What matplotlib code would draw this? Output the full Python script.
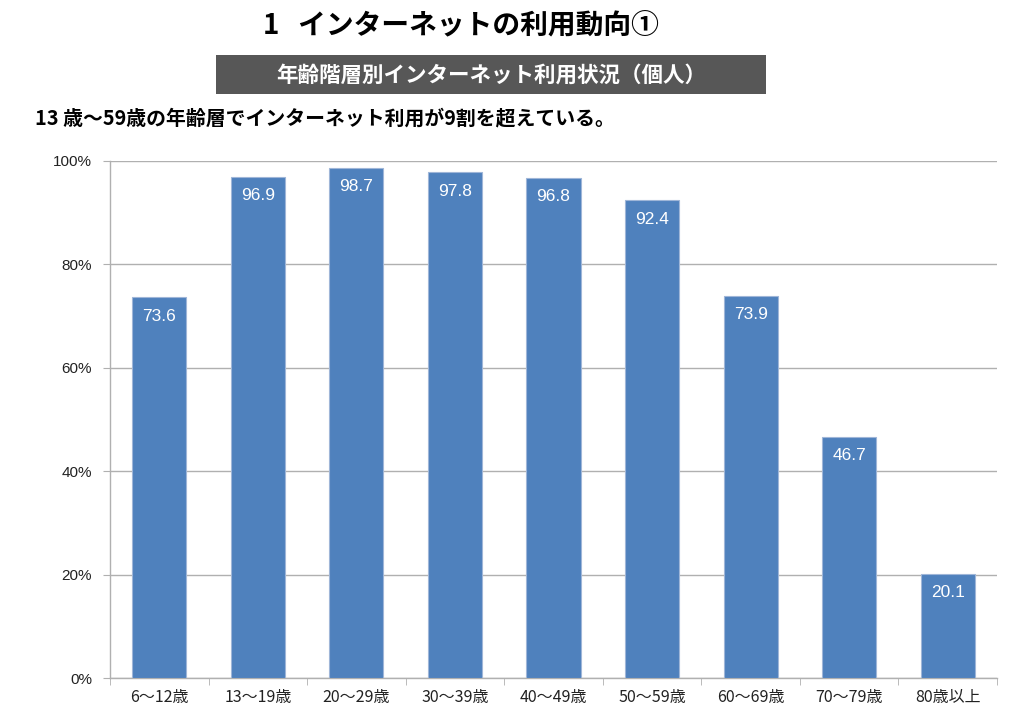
import matplotlib
matplotlib.use("Agg")
import matplotlib.pyplot as plt
import numpy as np
from matplotlib.patches import Rectangle

plt.rcParams['font.family'] = ['Liberation Sans', 'Noto Sans CJK JP', 'DejaVu Sans']

# データ
categories = ["6～12歳", "13～19歳", "20～29歳", "30～39歳", "40～49歳",
              "50～59歳", "60～69歳", "70～79歳", "80歳以上"]
values = [73.6, 96.9, 98.7, 97.8, 96.8, 92.4, 73.9, 46.7, 20.1]
yticks = [0, 20, 40, 60, 80, 100]
ytick_labels = ["0%", "20%", "40%", "60%", "80%", "100%"]

title = "1   インターネットの利用動向①"
banner = "年齢階層別インターネット利用状況（個人）"
subtitle = "13 歳～59歳の年齢層でインターネット利用が9割を超えている。"

fig = plt.figure(figsize=(10.24, 7.25), dpi=100)
ax = fig.add_axes([110 / 1024, 47 / 725, 887 / 1024, 517 / 725])

x = np.arange(len(categories))
bars = ax.bar(x, values, width=0.55, color="#4F81BD", edgecolor="#9fb6d8",
              linewidth=0.8, zorder=3)

for xi, v in zip(x, values):
    ax.text(xi, v - 2.2, f"{v:.1f}", ha="center", va="top", color="white",
            fontsize=12.5, zorder=4)

ax.set_xlim(-0.5, len(categories) - 0.5)
ax.set_ylim(0, 100)
ax.set_yticks(yticks)
ax.set_yticklabels(ytick_labels, fontsize=11, color="#222222")
ax.set_xticks(x)
ax.set_xticklabels(categories, fontsize=11.5, color="#222222",
                   family=['Noto Sans CJK JP'])
ax.set_xticks(np.arange(-0.5, len(categories), 1), minor=True)
ax.tick_params(axis="x", which="major", length=0, pad=8)
ax.tick_params(axis="x", which="minor", length=5, color="#b0b0b0")
ax.tick_params(axis="y", length=5, color="#b0b0b0", pad=8)

ax.yaxis.grid(True, color="#b0b0b0", linewidth=1, zorder=0)
for s in ["top", "right"]:
    ax.spines[s].set_visible(False)
for s in ["left", "bottom"]:
    ax.spines[s].set_color("#b0b0b0")
    ax.spines[s].set_linewidth(1)

# タイトル類
fig.text(461 / 1024, 1 - 25 / 725, title, ha="center", va="center",
         fontsize=20, fontweight="bold", family=['Noto Sans CJK JP'])
fig.patches.append(Rectangle((216 / 1024, 1 - 94 / 725), 550 / 1024, 39 / 725,
                             transform=fig.transFigure, facecolor="#575757",
                             edgecolor="none"))
fig.text(491 / 1024, 1 - 75 / 725, banner, ha="center", va="center",
         fontsize=15.5, fontweight="bold", color="white",
         family=['Noto Sans CJK JP'])
fig.text(35 / 1024, 1 - 118 / 725, subtitle, ha="left", va="center",
         fontsize=14.3, fontweight="bold", family=['Noto Sans CJK JP'])

fig.savefig("out.png", dpi=100)
